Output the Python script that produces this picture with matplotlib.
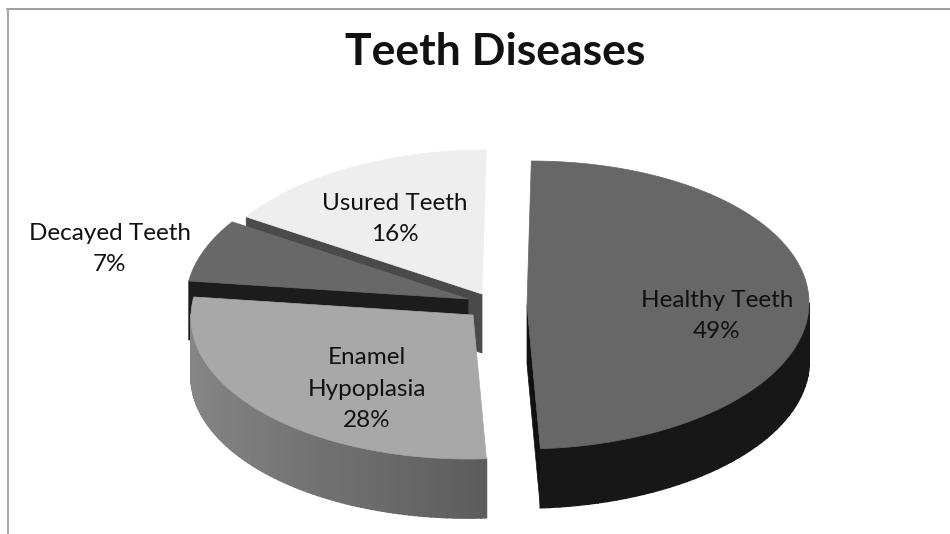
import numpy as np
import matplotlib
matplotlib.use("Agg")
import matplotlib.pyplot as plt
from matplotlib.patches import Polygon

labels = ["Healthy Teeth", "Enamel\nHypoplasia", "Decayed Teeth", "Usured Teeth"]
values = [49, 28, 7, 16]

# layout in pixels of the 950x534 picture
RX = 282
RY = 144
DEPTH = 59
SHEAR = -0.03
tips = [(527, 305), (473, 315), (468, 299), (482, 294)]
top_colors = ["#676767", "#a8a8a8", "#686868", "#eeeeee"]
cut_colors = ["#111111", "#555555", "#1c1c1c", "#4a4a4a"]
label_pos = [(717, 316), (367, 389), (110, 249), (395, 219)]


def rim(tip, deg):
    a = np.radians(deg)
    dy = -RY * np.sin(a)
    return tip[0] + RX * np.cos(a) + SHEAR * dy, tip[1] + dy


def wall_color(i, deg):
    # side shading, enamel slice has the gradient
    if i == 0:
        return "#171717"
    if i == 1:
        t = (deg + 180) / 93.6
        return str(0.53 - 0.17 * t ** 1.5)
    return "#222222"


def draw_slice(ax, i, start, end):
    tip = tips[i]
    angles = np.linspace(start, end, 90)

    # cut faces: only the ones turned to the viewer
    for deg, shows in ((start, i == 0), (end, i in (2, 3))):
        if shows:
            x, y = rim(tip, deg)
            quad = [tip, (x, y), (x, y + DEPTH), (tip[0], tip[1] + DEPTH)]
            ax.add_patch(Polygon(quad, fc=cut_colors[i], ec=cut_colors[i], lw=0.5))

    # outer wall, strip by strip
    for a, b in zip(angles[:-1], angles[1:]):
        if np.sin(np.radians((a + b) / 2)) > 0:
            continue
        xa, ya = rim(tip, a)
        xb, yb = rim(tip, b)
        c = wall_color(i, (a + b) / 2)
        quad = [(xa, ya), (xb, yb), (xb, yb + DEPTH), (xa, ya + DEPTH)]
        ax.add_patch(Polygon(quad, fc=c, ec=c, lw=1.2))

    # top face
    pts = [tip] + [rim(tip, d) for d in angles]
    ax.add_patch(Polygon(pts, fc=top_colors[i], ec=top_colors[i], lw=0.5))


fig = plt.figure(figsize=(9.5, 5.34), dpi=100)
ax = fig.add_axes([0, 0, 1, 1])
ax.set_xlim(0, 950)
ax.set_ylim(534, 0)
ax.axis("off")

# chart frame, only top and left show
ax.plot([7, 950], [9, 9], color="#8c8c8c", lw=1.2)
ax.plot([7.5, 7.5], [9, 534], color="#a6a6a6", lw=1.4)

# slice angles, clockwise from 12 o'clock
spans = []
pos = 90.0
for v in values:
    spans.append((pos - v * 3.6, pos))
    pos -= v * 3.6

# back to front
for i in (3, 2, 1, 0):
    draw_slice(ax, i, spans[i][0], spans[i][1])

for name, v, (x, y) in zip(labels, values, label_pos):
    ax.text(x, y, f"{name}\n{v}%", ha="center", va="center", fontsize=17.5,
            family="Lato", color="#111111", linespacing=1.6)

ax.text(495, 52, "Teeth Diseases", ha="center", va="center", fontsize=32,
        family="Lato", fontweight="bold", color="#111111")

fig.savefig("out.png", dpi=100)
